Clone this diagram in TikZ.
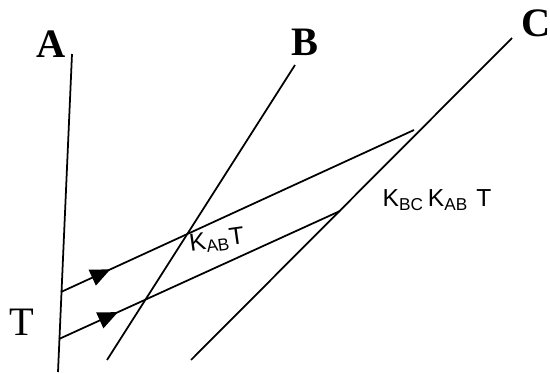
\documentclass[tikz,border=0pt]{standalone}
\usepackage{fontspec}
\setmainfont{Liberation Serif}
\newfontfamily\handfont{Liberation Sans}
\usetikzlibrary{arrows.meta,decorations.markings}

\begin{document}
\begin{tikzpicture}[
  x=0.02cm, y=-0.02cm,
  worldline/.style={draw, line width=1pt},
  signal/.style={worldline, postaction={decorate},
    decoration={markings, mark=at position #1 with {\arrow{Triangle[length=0.4cm, width=0.34cm]}}}},
  observer/.style={font=\fontsize{23}{23}\selectfont\bfseries, inner sep=0pt},
  timelabel/.style={font=\fontsize{23}{23}\selectfont, inner sep=0pt},
  hand/.style={font=\handfont\fontsize{14}{14}\selectfont, inner sep=0pt}
]
\useasboundingbox (0,0) rectangle (550,374);

% world lines
\coordinate (Atop) at (72,54);
\coordinate (Abot) at (58,372);
\coordinate (Btop) at (295,65);
\coordinate (Bbot) at (107,360);
\coordinate (Ctop) at (512,38);
\coordinate (Cbot) at (191,360);
\draw[worldline] (Atop) -- (Abot);
\draw[worldline] (Btop) -- (Bbot);
\draw[worldline] (Ctop) -- (Cbot);

% signals sent from A
\coordinate (s1) at (61,292);
\coordinate (e1) at (414,130);
\coordinate (s2) at (59,339);
\coordinate (e2) at (340,211);
\path[signal=0.14] (s1) -- (e1);
\path[signal=0.21] (s2) -- (e2);

% labels
\node[observer] (labA) at (51,44) {A};
\node[observer] (labB) at (305,42) {B};
\node[observer] (labC) at (536,23) {C};
\node[timelabel] (labT) at (22,322) {T};
\node[hand, rotate=8] (kab) at (217,241) {K\textsubscript{AB}T};
\node[hand] (kbc) at (437,200) {K\textsubscript{BC}\,K\textsubscript{AB}\,\,T};
\end{tikzpicture}
\end{document}
